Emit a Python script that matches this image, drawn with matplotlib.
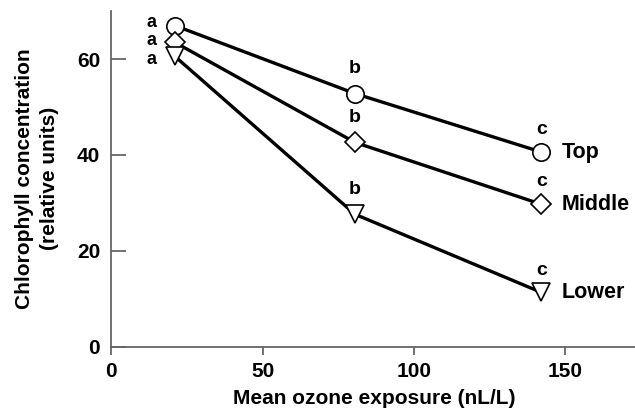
import matplotlib
matplotlib.use('Agg')
import matplotlib.pyplot as plt

# chlorophyll vs mean ozone exposure, three canopy positions
ozone = [21, 80.5, 142]
top = [67.0, 52.8, 40.6]
middle = [63.5, 42.6, 29.7]
lower = [60.6, 27.6, 11.3]
positions = ['Top', 'Middle', 'Lower']
letters = ['a', 'b', 'c']

plt.rcParams['font.family'] = ['Liberation Sans', 'DejaVu Sans']
plt.rcParams['font.weight'] = 'bold'

fig = plt.figure(figsize=(6.35, 4.13), dpi=100)
ax = fig.add_axes([0.175, 0.161, 0.83, 0.812])

series = [top, middle, lower]
markers = ['o', 'D', 'v']
msizes = [12.5, 10.5, 13]
for vals, mk, ms, name in zip(series, markers, msizes, positions):
    ax.plot(ozone, vals, color='black', lw=2.4, marker=mk, ms=ms,
            mfc='white', mec='black', mew=1.2, zorder=3)
    ax.annotate(name, (ozone[-1], vals[-1]), xytext=(15, 0),
                textcoords='offset points', ha='left', va='center',
                fontsize=15.5, fontweight='bold')

# significance letters
a_offsets = [(-17, 2.5), (-17, 1), (-17, -2.5)]
for vals, off in zip(series, a_offsets):
    ax.annotate(letters[0], (ozone[0], vals[0]), xytext=off,
                textcoords='offset points', ha='center', va='center',
                fontsize=13, fontweight='bold')
    ax.annotate(letters[1], (ozone[1], vals[1]), xytext=(0, 18),
                textcoords='offset points', ha='center', va='center',
                fontsize=14, fontweight='bold')
    ax.annotate(letters[2], (ozone[2], vals[2]), xytext=(0, 16),
                textcoords='offset points', ha='center', va='center',
                fontsize=14, fontweight='bold')

ax.set_xlim(0, 174)
ax.set_ylim(0, 70)
ax.set_xticks([0, 50, 100, 150])
ax.set_yticks([0, 20, 40, 60])
for s in ['top', 'right']:
    ax.spines[s].set_visible(False)
for s in ['left', 'bottom']:
    ax.spines[s].set_color('#666666')
    ax.spines[s].set_linewidth(1.3)
ax.tick_params(axis='y', direction='in', length=11, width=1.3, color='#666666',
               pad=8, labelsize=15)
ax.tick_params(axis='x', direction='out', length=6, width=1.3, color='#666666',
               pad=5, labelsize=15)
for lab in ax.get_xticklabels() + ax.get_yticklabels():
    lab.set_fontweight('bold')

ax.set_xlabel('Mean ozone exposure (nL/L)', fontsize=15, fontweight='bold',
              labelpad=6)
ax.set_ylabel('Chlorophyll concentration\n(relative units)', fontsize=15,
              fontweight='bold', labelpad=13, linespacing=1.4)

fig.savefig('out.png', dpi=100)
